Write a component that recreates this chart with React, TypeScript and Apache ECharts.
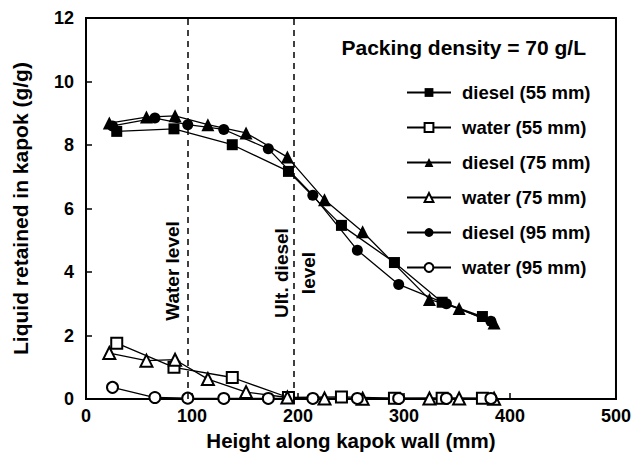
import React, { useEffect, useRef } from "react";
import * as echarts from "echarts";

// Heights along kapok wall (mm) for each packing height
const x55 = [29, 83, 138, 191, 241, 291, 336, 374];
const x75 = [22, 57, 84, 115, 151, 190, 225, 261, 324, 352, 385];
const x95 = [25, 65, 96, 130, 172, 214, 256, 295, 340, 382];

// Liquid retained (g/g)
const diesel55 = [8.43, 8.51, 8.01, 7.17, 5.47, 4.3, 3.05, 2.6];
const water55 = [1.76, 1.0, 0.68, 0.05, 0.07, 0.03, 0.03, 0.03];
const diesel75 = [8.69, 8.88, 8.92, 8.64, 8.38, 7.62, 6.28, 5.27, 3.14, 2.85, 2.4];
const water75 = [1.45, 1.21, 1.24, 0.63, 0.22, 0.05, 0.02, 0.01, 0.02, 0.02, 0.01];
const diesel95 = [8.6, 8.85, 8.64, 8.49, 7.88, 6.42, 4.69, 3.61, 3.0, 2.45];
const water95 = [0.37, 0.05, 0.03, 0.02, 0.02, 0.02, 0.02, 0.02, 0.02, 0.02];

const seriesNames = [
  "diesel (55 mm)",
  "water (55 mm)",
  "diesel (75 mm)",
  "water (75 mm)",
  "diesel (95 mm)",
  "water (95 mm)",
];
const levelLines = [96, 196];
const xTicks = { min: 0, max: 500, interval: 100 };
const yTicks = { min: 0, max: 12, interval: 2 };

const FONT = '"Liberation Sans", Arial, Helvetica, sans-serif';

export default function App() {
  const ref = useRef<HTMLDivElement>(null);
  useEffect(() => {
    if (!ref.current) return;
    const chart = echarts.init(ref.current, null, { renderer: "svg" });
    const mk = (name: string, xs: number[], ys: number[], symbol: string, size: number) => ({
      type: "line",
      name,
      data: xs.map((x, i) => [x, ys[i]]),
      symbol,
      symbolSize: size,
      showAllSymbol: true,
      lineStyle: { color: "#000", width: 1.3 },
      itemStyle: { color: "#000", borderWidth: 1.2 },
      z: 3,
    });
    const series: any[] = [
      mk(seriesNames[1], x55, water55, "emptyRect", 11),
      mk(seriesNames[3], x75, water75, "emptyTriangle", 12),
      mk(seriesNames[5], x95, water95, "emptyCircle", 11),
      mk(seriesNames[0], x55, diesel55, "rect", 11),
      mk(seriesNames[2], x75, diesel75, "triangle", 13),
      mk(seriesNames[4], x95, diesel95, "circle", 11),
      {
        type: "line",
        data: [],
        markLine: {
          silent: true,
          symbol: ["none", "none"],
          label: { show: false },
          lineStyle: { color: "#000", type: [6, 5], width: 1.5 },
          data: levelLines.map((v) => ({ xAxis: v })),
        },
      },
    ];
    chart.setOption({
      animation: false,
      backgroundColor: "#fff",
      grid: {
        left: 86,
        top: 18,
        right: 16,
        bottom: 56,
        show: true,
        borderColor: "#000",
        borderWidth: 2,
      },
      xAxis: {
        type: "value",
        ...xTicks,
        name: "Height along kapok wall (mm)",
        nameLocation: "middle",
        nameGap: 30,
        nameTextStyle: { fontFamily: FONT, fontWeight: "bold", fontSize: 20.5, color: "#000" },
        axisLine: { lineStyle: { color: "#000", width: 2 } },
        axisTick: { inside: true, length: 6, lineStyle: { color: "#000", width: 1.5 } },
        axisLabel: { fontFamily: FONT, fontWeight: "bold", fontSize: 18, color: "#000", margin: 8 },
        splitLine: { show: false },
      },
      yAxis: {
        type: "value",
        ...yTicks,
        name: "Liquid retained in kapok (g/g)",
        nameLocation: "middle",
        nameRotate: 90,
        nameGap: 55,
        nameTextStyle: { fontFamily: FONT, fontWeight: "bold", fontSize: 21, color: "#000" },
        axisLine: { lineStyle: { color: "#000", width: 2 } },
        axisTick: { inside: true, length: 6, lineStyle: { color: "#000", width: 1.5 } },
        axisLabel: { fontFamily: FONT, fontWeight: "bold", fontSize: 18, color: "#000", margin: 12 },
        splitLine: { show: false },
      },
      legend: {
        data: seriesNames,
        orient: "vertical",
        left: 401,
        top: 78,
        itemWidth: 44,
        itemHeight: 11,
        itemGap: 16,
        textStyle: {
          fontFamily: FONT,
          fontWeight: "bold",
          fontSize: 18.5,
          color: "#000",
          padding: [0, 0, 0, 6],
        },
      },
      graphic: [
        {
          type: "text",
          x: 586,
          y: 47,
          style: {
            text: "Packing density = 70 g/L",
            align: "right",
            verticalAlign: "middle",
            textAlign: "right",
            textVerticalAlign: "middle",
            font: `bold 21px ${FONT}`,
            fill: "#000",
          },
        },
        {
          type: "text",
          x: 172,
          y: 271,
          rotation: Math.PI / 2,
          style: {
            text: "Water level",
            align: "center",
            verticalAlign: "middle",
            textAlign: "center",
            textVerticalAlign: "middle",
            font: `bold 19px ${FONT}`,
            fill: "#000",
          },
        },
        {
          type: "text",
          x: 295,
          y: 273,
          rotation: Math.PI / 2,
          style: {
            text: "Ult. diesel\nlevel",
            align: "center",
            verticalAlign: "middle",
            textAlign: "center",
            textVerticalAlign: "middle",
            lineHeight: 27,
            font: `bold 19px ${FONT}`,
            fill: "#000",
          },
        },
      ],
      series,
    });
    return () => chart.dispose();
  }, []);
  return (
    <div
      ref={ref}
      style={{ position: "fixed", left: 0, top: 0, width: 634, height: 456 }}
    />
  );
}
